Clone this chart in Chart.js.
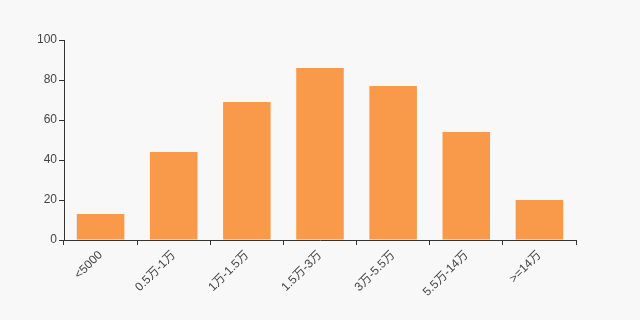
<!DOCTYPE html>
<html>
<head>
<meta charset="utf-8">
<script src="https://cdn.jsdelivr.net/npm/chart.js@4/dist/chart.umd.min.js"></script>
<style>
  html, body { margin: 0; padding: 0; background: #f8f8f8; }
  #wrap { width: 640px; height: 320px; }
</style>
</head>
<body>
<div id="wrap"><canvas id="c"></canvas></div>
<script>
var categories = ['<5000', '0.5万-1万', '1万-1.5万', '1.5万-3万', '3万-5.5万', '5.5万-14万', '>=14万'];
var values = [13, 44, 69, 86, 77, 54, 20];

document.addEventListener("DOMContentLoaded", function() {
    Chart.defaults.font.family = 'Arial, "Liberation Sans", "Noto Sans CJK SC", sans-serif';
    Chart.defaults.font.size = 12;
    Chart.defaults.color = '#444';
    var ctx = document.getElementById('c').getContext('2d');
    new Chart(ctx, {
        type: 'bar',
        data: {
            labels: categories,
            datasets: [{
                data: values,
                backgroundColor: '#f89a4a',
                barPercentage: 0.65,
                categoryPercentage: 1
            }]
        },
        options: {
            responsive: true,
            maintainAspectRatio: false,
            animation: false,
            layout: { padding: { left: 20, right: 64, top: 40, bottom: 0 } },
            plugins: { legend: { display: false }, tooltip: { enabled: false } },
            scales: {
                x: {
                    grid: { drawOnChartArea: false, tickLength: 5, color: '#333' },
                    border: { color: '#333' },
                    ticks: { minRotation: 45, maxRotation: 45, padding: 3 },
                    afterFit: function(s) { s.height = 80; }
                },
                y: {
                    min: 0, max: 100,
                    grid: { drawOnChartArea: false, tickLength: 5, color: '#333' },
                    border: { color: '#333' },
                    ticks: { stepSize: 20, padding: 2 },
                    afterFit: function(s) { s.width = 44; }
                }
            }
        }
    });
});
</script>
</body>
</html>
